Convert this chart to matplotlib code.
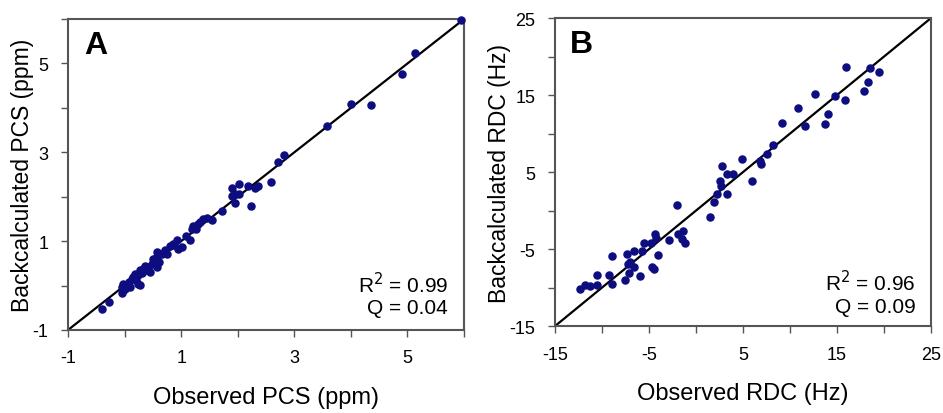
import matplotlib
matplotlib.use("Agg")
import matplotlib.pyplot as plt
from matplotlib.ticker import MultipleLocator, FuncFormatter

plt.rcParams['font.family'] = ['Liberation Sans', 'DejaVu Sans']

# panel A: observed vs backcalculated PCS (ppm)
pcs_obs = [5.95, 5.14, 4.91, 4.00, 4.35, 3.58, 2.82, 2.72, 2.59, 1.90, 2.02, 2.19,
           2.30, 2.36, 1.92, 2.02, 1.90, 1.96, 1.96, 2.23, 1.72, 1.54, 1.39, 1.33,
           1.21, 1.27, 1.19, 1.16, 1.01, 0.92, 0.86, 0.80, 0.95, 0.71, 0.63, 0.57,
           0.51, 0.48, 0.60, 0.57, 0.42, 0.45, 0.33, 0.27, 0.24, 0.18, 0.13, 0.07,
           -0.02, -0.05, 0.01, -0.05, 0.10, 0.27, 0.24, -0.40, -0.27, 0.36, 0.30,
           0.52, 0.66, 0.75, 0.88, 1.08, 1.30, 1.45, 0.40, 0.20, 0.05, 0.15, 0.55]
pcs_calc = [5.97, 5.23, 4.76, 4.08, 4.06, 3.60, 2.93, 2.78, 2.33, 2.19, 2.28, 2.24,
            2.20, 2.25, 2.03, 2.07, 2.01, 1.87, 2.06, 1.79, 1.69, 1.47, 1.50, 1.43,
            1.35, 1.28, 1.28, 1.02, 0.86, 1.02, 0.94, 0.90, 0.83, 0.79, 0.72, 0.75,
            0.60, 0.49, 0.53, 0.41, 0.41, 0.30, 0.38, 0.34, 0.23, 0.26, 0.15, 0.08,
            0.04, -0.04, -0.07, -0.17, -0.04, 0.02, 0.03, -0.53, -0.38, 0.45, 0.28,
            0.58, 0.70, 0.70, 0.92, 1.12, 1.38, 1.52, 0.35, 0.12, 0.00, 0.20, 0.62]

# panel B: observed vs backcalculated RDC (Hz)
rdc_obs = [16.0, 18.5, 19.5, 18.3, 17.9, 14.8, 15.9, 12.7, 10.8, 14.0, 13.7, 11.6,
           9.1, 8.2, 7.6, 6.8, 6.9, 4.9, 6.0, 2.8, 3.3, 3.9, 2.55, 2.7, 3.3, 2.2,
           1.95, 1.5, -2.05, -1.35, -1.9, -1.5, -1.2, -2.9, -4.4, -4.3, -4.8, -5.5,
           -5.8, -4.0, -6.6, -7.3, -7.0, -7.2, -6.6, -7.1, -4.7, -4.5, -6.0, -7.55,
           -8.9, -9.3, -8.9, -10.5, -10.5, -11.3, -11.8, -12.3]
rdc_calc = [18.6, 18.5, 18.0, 16.75, 15.5, 14.9, 14.4, 15.1, 13.3, 12.6, 11.2, 11.0,
            11.4, 8.5, 7.4, 6.5, 6.0, 6.7, 3.9, 5.8, 4.8, 4.8, 3.8, 3.2, 2.1, 2.1,
            1.1, -0.9, 0.77, -2.6, -3.0, -3.7, -4.2, -3.8, -3.1, -3.6, -4.2, -4.2,
            -5.3, -5.75, -5.3, -5.7, -6.7, -6.9, -7.35, -8.1, -7.35, -7.6, -8.5, -9.0,
            -5.9, -8.4, -9.5, -8.4, -9.65, -9.75, -9.65, -10.2]

dot_color = '#0d0d80'


def setup(ax, lo, hi, step, labels, xlabel, ylabel, letter, r2, q, ry, qy):
    ax.plot([lo, hi], [lo, hi], color='black', lw=1.6, zorder=2)
    ax.set_xlim(lo, hi)
    ax.set_ylim(lo, hi)
    for a in (ax.xaxis, ax.yaxis):
        a.set_major_locator(MultipleLocator(step))
        a.set_major_formatter(FuncFormatter(
            lambda v, p: ('%g' % round(v)) if round(v) in labels else ''))
    ax.tick_params(direction='out', length=5, width=1, color='#555555',
                   labelsize=13, pad=9)
    for s in ax.spines.values():
        s.set_color('#555555')
        s.set_linewidth(1.5)
    ax.set_xlabel(xlabel, fontsize=17, labelpad=14)
    ax.set_ylabel(ylabel, fontsize=16.5, labelpad=-1)
    ax.text(0.04, 0.965, letter, transform=ax.transAxes, fontsize=23,
            fontweight='bold', ha='left', va='top')
    ax.text(0.96, ry, r'R$^2$ = ' + r2, transform=ax.transAxes, fontsize=15,
            ha='right', va='center')
    ax.text(0.96, qy, 'Q = ' + q, transform=ax.transAxes, fontsize=15,
            ha='right', va='center')


fig = plt.figure(figsize=(9.43, 4.14), dpi=100)
ax1 = fig.add_axes([0.0721, 0.2005, 0.42, 0.751])
ax2 = fig.add_axes([0.5886, 0.210, 0.3987, 0.744])

ax1.scatter(pcs_obs, pcs_calc, s=26, color=dot_color, zorder=3, clip_on=False)
setup(ax1, -1, 6, 1, [-1, 1, 3, 5], 'Observed PCS (ppm)', 'Backcalculated PCS (ppm)',
      'A', '0.99', '0.04', 0.148, 0.071)

ax2.scatter(rdc_obs, rdc_calc, s=26, color=dot_color, zorder=3, clip_on=False)
setup(ax2, -15, 25, 5, [-15, -5, 5, 15, 25], 'Observed RDC (Hz)', 'Backcalculated RDC (Hz)',
      'B', '0.96', '0.09', 0.143, 0.062)

fig.savefig('out.png', dpi=100)
